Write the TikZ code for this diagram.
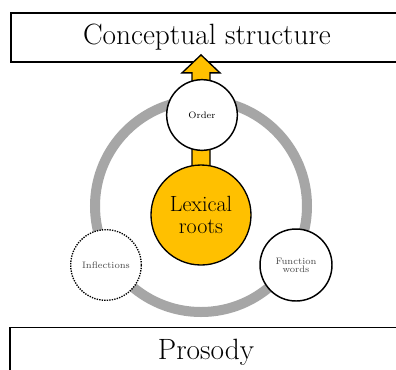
\documentclass[tikz,border=0pt]{standalone}
\usetikzlibrary{calc}
\definecolor{rootyellow}{HTML}{FFC000}
\definecolor{ringgray}{HTML}{A6A6A6}
\tikzset{
  levelbox/.style={draw,line width=1.1pt,minimum width=294pt,minimum height=37pt,
    font=\fontsize{22}{26}\selectfont},
  morph/.style={circle,draw,fill=white,line width=1.1pt,minimum size=52pt,
    inner sep=1pt,align=center,font=\fontsize{7}{8}\selectfont},
  rootcirc/.style={circle,draw,fill=rootyellow,line width=1pt,minimum size=75pt,
    align=center,font=\fontsize{16.5}{18}\selectfont},
}
\begin{document}
\begin{tikzpicture}[x=0.75pt,y=-0.75pt]
\clip (0,0) rectangle (396,369);
\fill[white] (0,0) rectangle (396,369);

\node[levelbox] (concept) at (207,37.5) {Conceptual structure};
\node[levelbox] (prosody) at (206,352) {Prosody};

% ring of morphology
\coordinate (hub) at (201,206);
\draw[ringgray,line width=7.5pt] (hub) circle (106);

% block arrow up into conceptual structure
\coordinate (rootc) at (201,215);
\coordinate (tip) at (rootc |- concept.south);
\draw[fill=rootyellow,line width=1pt]
  ($(rootc)+(-9,0)$) -- ($(tip)+(-9,10)$) -- ($(tip)+(-19,10)$)
  -- ($(tip)+(0,-8)$) -- ($(tip)+(19,10)$) -- ($(tip)+(9,10)$)
  -- ($(rootc)+(9,0)$) -- cycle;

\node[rootcirc] (roots) at (rootc) {Lexical\\[-2pt]roots};
\node[morph,minimum size=53pt] (order) at (202,115) {Order};
\node[morph,line width=1pt,dash pattern=on 1pt off 0.9pt,minimum size=53pt,text=black!70] (infl) at (106,265) {Inflections};
\node[morph,minimum size=54pt,text=black!70] (func) at (296,265) {Function\\[-2pt]words};
\end{tikzpicture}
\end{document}
